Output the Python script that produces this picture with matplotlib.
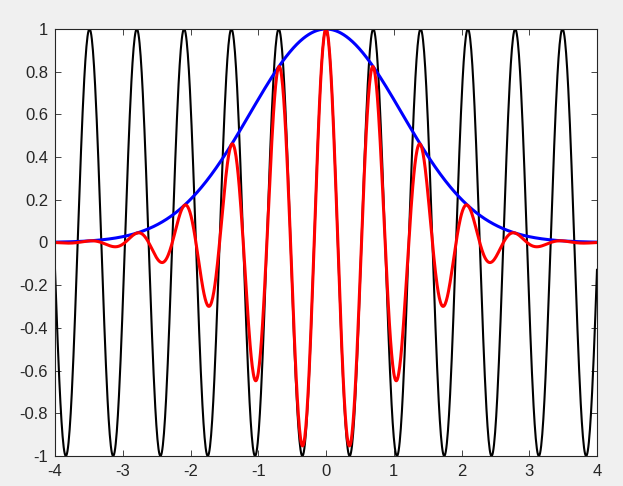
import numpy as np
import matplotlib.pyplot as plt

# curve parameters
x_min, x_max = -4, 4
freq = 9.0          # black: cos(9x), period ~0.698
decay = 0.4         # blue: exp(-0.4 x^2)
n_points = 1001

x_ticks = [-4, -3, -2, -1, 0, 1, 2, 3, 4]
y_ticks = [-1, -0.8, -0.6, -0.4, -0.2, 0, 0.2, 0.4, 0.6, 0.8, 1]
y_tick_labels = ["-1", "-0.8", "-0.6", "-0.4", "-0.2", "0", "0.2", "0.4", "0.6", "0.8", "1"]
x_tick_labels = ["-4", "-3", "-2", "-1", "0", "1", "2", "3", "4"]

x = np.linspace(x_min, x_max, n_points)
wave = np.cos(freq * x)
envelope = np.exp(-decay * x ** 2)
packet = wave * envelope

plt.rcParams["font.family"] = ["Liberation Sans", "DejaVu Sans"]
dark = (0.15, 0.15, 0.15)

fig = plt.figure(figsize=(6.23, 4.86), dpi=100, facecolor="#f0f0f0")
ax = fig.add_axes([55 / 623, 1 - 456 / 486, 542 / 623, 427 / 486])

ax.plot(x, wave, color="black", linewidth=1.5)
ax.plot(x, envelope, color="blue", linewidth=2.2)
ax.plot(x, packet, color="red", linewidth=2.2)

ax.set_xlim(x_min, x_max)
ax.set_ylim(-1, 1)
ax.set_xticks(x_ticks)
ax.set_xticklabels(x_tick_labels)
ax.set_yticks(y_ticks)
ax.set_yticklabels(y_tick_labels)
ax.tick_params(direction="in", top=True, right=True, length=4, width=0.6,
               color=dark, labelcolor=dark, labelsize=12)
ax.tick_params(axis="x", pad=6)
ax.tick_params(axis="y", pad=5)
for s in ax.spines.values():
    s.set_color(dark)
    s.set_linewidth(0.8)

fig.savefig("out.png", dpi=100, facecolor=fig.get_facecolor())
